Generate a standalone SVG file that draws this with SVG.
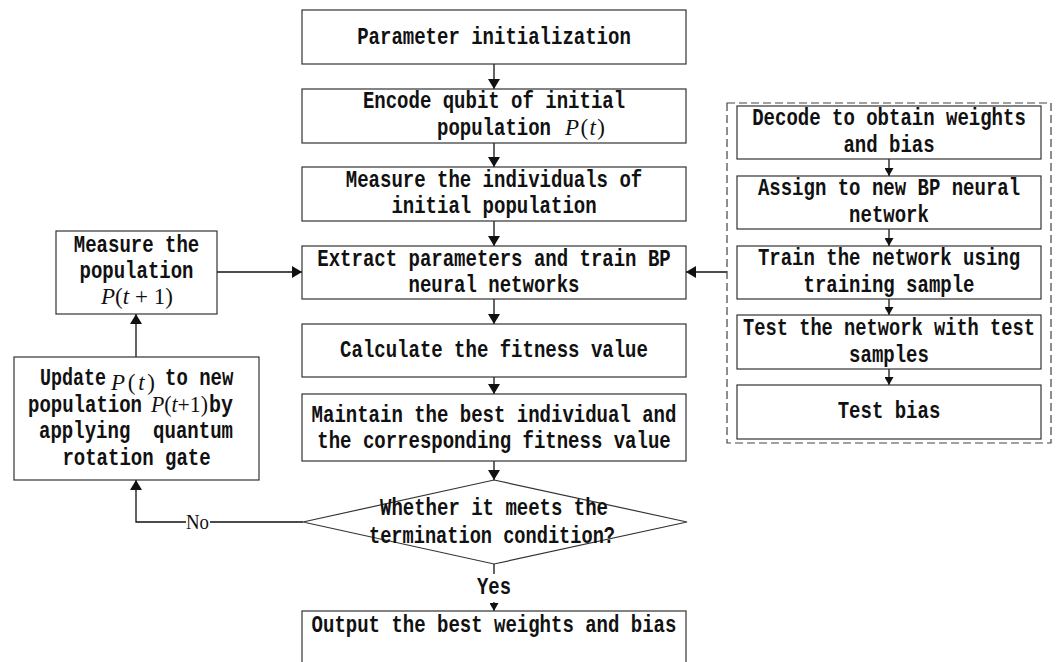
<svg xmlns="http://www.w3.org/2000/svg" width="1059" height="662" viewBox="0 0 1059 662">
  <defs>
    <style>
      .box { fill: #fff; stroke: #333; stroke-width: 1.2; }
      .dash { fill: none; stroke: #444; stroke-width: 1.2; stroke-dasharray: 8 4; }
      .ln { fill: none; stroke: #111; stroke-width: 1.3; }
      .t { font-family: "Liberation Mono", "DejaVu Sans Mono", monospace; font-size: 24px; font-weight: bold; fill: #111; }
      .m { font-family: "Liberation Serif", "Times New Roman", serif; font-size: 23px; fill: #111; }
      .mi { font-style: italic; }
      .lbl { font-family: "Liberation Serif", "Times New Roman", serif; font-size: 22px; fill: #111; }
    </style>
    <marker id="ah" viewBox="0 0 10 12" refX="10" refY="6" markerWidth="10" markerHeight="12" markerUnits="userSpaceOnUse" orient="auto">
      <path d="M0,0 L10,6 L0,12 Z" fill="#111"/>
    </marker>
    <marker id="ahs" viewBox="0 0 8 9" refX="8" refY="4.5" markerWidth="8" markerHeight="9" markerUnits="userSpaceOnUse" orient="auto">
      <path d="M0,0 L8,4.5 L0,9 Z" fill="#111"/>
    </marker>
  </defs>
  <rect width="1059" height="662" fill="#fff"/>

  <!-- connectors -->
  <g id="connectors">
    <path class="ln" d="M494,64 V89" marker-end="url(#ah)"/>
    <path class="ln" d="M494,143 V167" marker-end="url(#ah)"/>
    <path class="ln" d="M494,221 V246" marker-end="url(#ah)"/>
    <path class="ln" d="M494,299 V324" marker-end="url(#ah)"/>
    <path class="ln" d="M494,377 V394" marker-end="url(#ah)"/>
    <path class="ln" d="M494,461 V480" marker-end="url(#ah)"/>
    <path class="ln" d="M494,564 V574"/>
    <path class="ln" d="M494,602 V611" marker-end="url(#ahs)"/>
    <!-- No branch back to the update step -->
    <path class="ln" d="M303,522 H210"/>
    <path class="ln" d="M186,522 H136 V480" marker-end="url(#ah)"/>
    <path class="ln" d="M136,357 V314" marker-end="url(#ah)"/>
    <path class="ln" d="M217,272 H302" marker-end="url(#ah)"/>
    <path class="ln" d="M727,272 H686" marker-end="url(#ah)"/>
    <!-- inner chain of the decoding block -->
    <path class="ln" d="M889,159 V176" marker-end="url(#ahs)"/>
    <path class="ln" d="M889,229 V246" marker-end="url(#ahs)"/>
    <path class="ln" d="M889,299 V315" marker-end="url(#ahs)"/>
    <path class="ln" d="M889,369 V385" marker-end="url(#ahs)"/>
    <text class="lbl" x="186" y="529" textLength="23" lengthAdjust="spacingAndGlyphs">No</text>
    <text class="t" x="494" y="594" text-anchor="middle" textLength="34" lengthAdjust="spacingAndGlyphs">Yes</text>
  </g>

  <!-- main flow -->
  <g id="n-init">
    <rect class="box" x="302" y="10" width="384" height="54"/>
    <text class="t" x="494" y="44" text-anchor="middle" textLength="273.6" lengthAdjust="spacingAndGlyphs">Parameter initialization</text>
  </g>
  <g id="n-encode">
    <rect class="box" x="302" y="89" width="384" height="54"/>
    <text class="t" x="494" y="108" text-anchor="middle" textLength="262.2" lengthAdjust="spacingAndGlyphs">Encode qubit of initial</text>
    <text class="t" x="437" y="135" textLength="114" lengthAdjust="spacingAndGlyphs">population</text>
    <text class="m" x="565" y="135" textLength="40" lengthAdjust="spacing"><tspan class="mi">P</tspan>(<tspan class="mi">t</tspan>)</text>
  </g>
  <g id="n-measure-init">
    <rect class="box" x="302" y="167" width="384" height="54"/>
    <text class="t" x="494" y="187" text-anchor="middle" textLength="296.4" lengthAdjust="spacingAndGlyphs">Measure the individuals of</text>
    <text class="t" x="494" y="213" text-anchor="middle" textLength="205.2" lengthAdjust="spacingAndGlyphs">initial population</text>
  </g>
  <g id="n-extract">
    <rect class="box" x="302" y="246" width="384" height="53"/>
    <text class="t" x="494" y="266" text-anchor="middle" textLength="353.4" lengthAdjust="spacingAndGlyphs">Extract parameters and train BP</text>
    <text class="t" x="494" y="292" text-anchor="middle" textLength="171" lengthAdjust="spacingAndGlyphs">neural networks</text>
  </g>
  <g id="n-fitness">
    <rect class="box" x="302" y="324" width="384" height="53"/>
    <text class="t" x="494" y="357" text-anchor="middle" textLength="307.8" lengthAdjust="spacingAndGlyphs">Calculate the fitness value</text>
  </g>
  <g id="n-maintain">
    <rect class="box" x="302" y="394" width="384" height="67"/>
    <text class="t" x="494" y="422" text-anchor="middle" textLength="364.8" lengthAdjust="spacingAndGlyphs">Maintain the best individual and</text>
    <text class="t" x="494" y="448" text-anchor="middle" textLength="353.4" lengthAdjust="spacingAndGlyphs">the corresponding fitness value</text>
  </g>
  <g id="n-decision">
    <path class="box" d="M494,480 L687,522 L494,564 L303,522 Z"/>
    <text class="t" x="494" y="515" text-anchor="middle" textLength="228" lengthAdjust="spacingAndGlyphs">Whether it meets the</text>
    <text class="t" x="492" y="543" text-anchor="middle" textLength="246" lengthAdjust="spacingAndGlyphs">termination condition?</text>
  </g>
  <g id="n-output">
    <rect class="box" x="302" y="611" width="384" height="70"/>
    <text class="t" x="494" y="632" text-anchor="middle" textLength="364.8" lengthAdjust="spacingAndGlyphs">Output the best weights and bias</text>
  </g>

  <!-- update loop on the left -->
  <g id="n-measure-pop">
    <rect class="box" x="56" y="231" width="161" height="83"/>
    <text class="t" x="136.5" y="252" text-anchor="middle" textLength="125.4" lengthAdjust="spacingAndGlyphs">Measure the</text>
    <text class="t" x="136.5" y="278" text-anchor="middle" textLength="114" lengthAdjust="spacingAndGlyphs">population</text>
    <text class="m" x="101" y="304" textLength="72" lengthAdjust="spacing"><tspan class="mi">P</tspan>(<tspan class="mi">t</tspan> + 1)</text>
  </g>
  <g id="n-update">
    <rect class="box" x="14" y="357" width="245" height="123"/>
    <text class="t" x="40" y="385" textLength="66" lengthAdjust="spacingAndGlyphs">Update</text>
    <text class="m" x="111" y="390" textLength="44" lengthAdjust="spacing"><tspan class="mi">P</tspan>(<tspan class="mi">t</tspan>)</text>
    <text class="t" x="165" y="385" textLength="68.4" lengthAdjust="spacingAndGlyphs">to new</text>
    <text class="t" x="28" y="412" textLength="114" lengthAdjust="spacingAndGlyphs">population</text>
    <text class="m" x="151" y="412" textLength="57" lengthAdjust="spacingAndGlyphs"><tspan class="mi">P</tspan>(<tspan class="mi">t</tspan>+1)</text>
    <text class="t" x="209" y="412" textLength="24" lengthAdjust="spacingAndGlyphs">by</text>
    <text class="t" x="39" y="438" xml:space="preserve" textLength="194" lengthAdjust="spacingAndGlyphs">applying  quantum</text>
    <text class="t" x="136.5" y="465" text-anchor="middle" textLength="148.2" lengthAdjust="spacingAndGlyphs">rotation gate</text>
  </g>

  <!-- decoding / network evaluation block -->
  <g id="n-block">
    <rect class="dash" x="727" y="103" width="324" height="340"/>
  </g>
  <g id="n-decode">
    <rect class="box" x="737" y="106" width="304" height="53"/>
    <text class="t" x="889" y="125" text-anchor="middle" textLength="273.6" lengthAdjust="spacingAndGlyphs">Decode to obtain weights</text>
    <text class="t" x="889" y="152" text-anchor="middle" textLength="91.2" lengthAdjust="spacingAndGlyphs">and bias</text>
  </g>
  <g id="n-assign">
    <rect class="box" x="737" y="176" width="304" height="53"/>
    <text class="t" x="889" y="195" text-anchor="middle" textLength="262.2" lengthAdjust="spacingAndGlyphs">Assign to new BP neural</text>
    <text class="t" x="889" y="222" text-anchor="middle" textLength="79.8" lengthAdjust="spacingAndGlyphs">network</text>
  </g>
  <g id="n-train">
    <rect class="box" x="737" y="246" width="304" height="53"/>
    <text class="t" x="889" y="265" text-anchor="middle" textLength="262.2" lengthAdjust="spacingAndGlyphs">Train the network using</text>
    <text class="t" x="889" y="292" text-anchor="middle" textLength="171" lengthAdjust="spacingAndGlyphs">training sample</text>
  </g>
  <g id="n-test">
    <rect class="box" x="737" y="315" width="304" height="54"/>
    <text class="t" x="889" y="335" text-anchor="middle" textLength="292" lengthAdjust="spacingAndGlyphs">Test the network with test</text>
    <text class="t" x="889" y="362" text-anchor="middle" textLength="79.8" lengthAdjust="spacingAndGlyphs">samples</text>
  </g>
  <g id="n-testbias">
    <rect class="box" x="737" y="385" width="304" height="54"/>
    <text class="t" x="889" y="418" text-anchor="middle" textLength="102.6" lengthAdjust="spacingAndGlyphs">Test bias</text>
  </g>
</svg>
